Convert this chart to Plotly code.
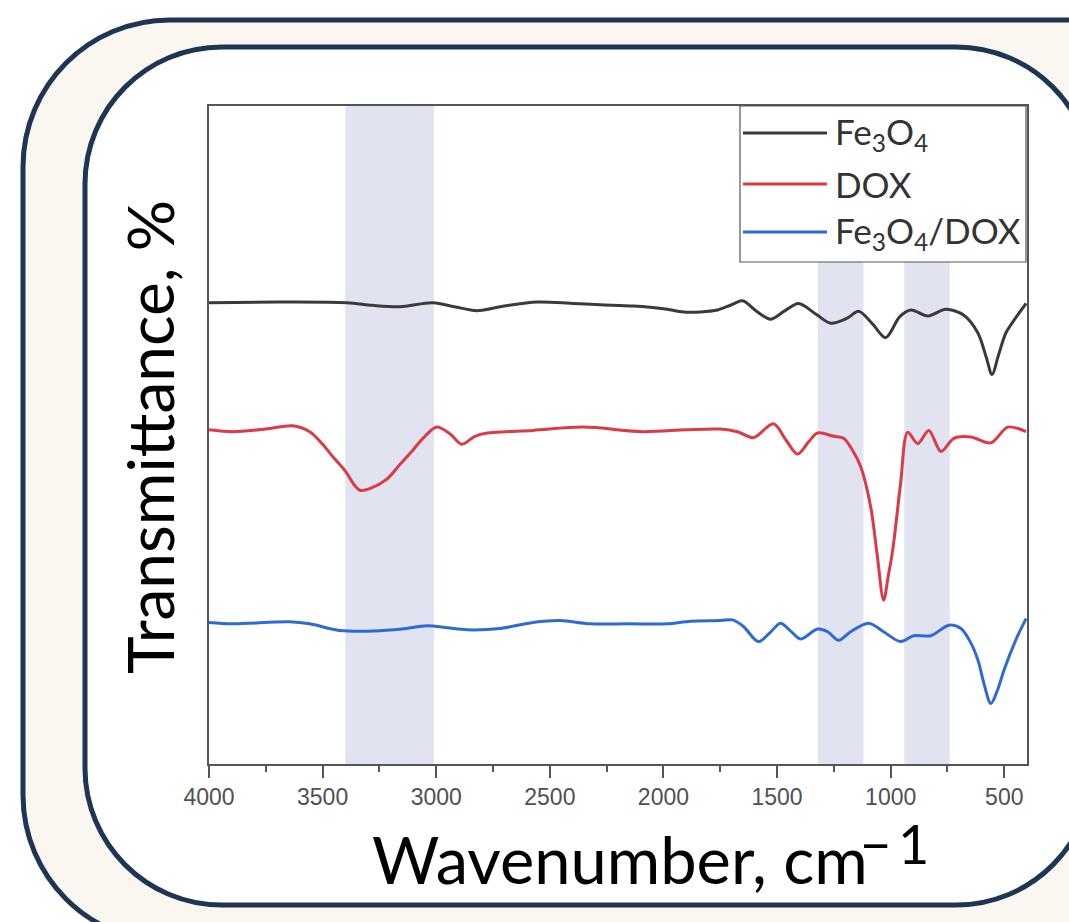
import plotly.graph_objects as go

# ---------------- data ----------------
fe_w = [4000, 3700, 3394, 3280, 3160, 3015, 2920, 2821, 2700, 2556,
        2400, 2278, 2133, 2000, 1912, 1837, 1762, 1700, 1652, 1590,
        1529, 1465, 1405, 1330, 1264, 1189, 1141, 1080, 1022, 960,
        911, 836, 757, 678, 616, 580, 554, 525, 493, 450, 404]
fe_t = [70.1, 70.2, 70.1, 69.7, 69.5, 70.1, 69.5, 68.9, 69.6, 70.2,
        70.0, 69.8, 69.6, 69.2, 68.7, 68.7, 69.0, 69.8, 70.4, 68.8,
        67.6, 68.9, 70.0, 68.4, 67.0, 67.8, 68.8, 66.9, 64.8, 68.0,
        69.0, 68.1, 69.1, 68.2, 65.5, 61.9, 59.2, 62.2, 65.5, 67.8, 70.0]

dox_w = [4000, 3896, 3750, 3632, 3557, 3500, 3455, 3400, 3360, 3336,
         3290, 3217, 3160, 3103, 3050, 2997, 2940, 2887, 2830, 2776,
         2574, 2353, 2089, 1900, 1749, 1674, 1604, 1516, 1460, 1410,
         1360, 1322, 1250, 1207, 1170, 1132, 1088, 1060, 1031, 1010,
         991, 956, 925, 881, 832, 779, 722, 647, 559, 484, 404]
dox_t = [50.8, 50.5, 50.9, 51.4, 50.5, 48.6, 46.7, 44.5, 42.4, 41.6,
         41.9, 43.3, 45.5, 47.7, 49.8, 51.2, 50.2, 48.6, 49.8, 50.3,
         50.7, 51.2, 50.5, 50.8, 50.9, 50.5, 49.6, 51.7, 49.2, 47.1,
         49.0, 50.3, 49.8, 49.5, 47.8, 45.2, 39.1, 32.0, 24.9, 28.7,
         32.5, 42.7, 50.4, 48.7, 50.7, 47.5, 49.5, 49.7, 48.8, 51.2, 50.5]

fd_w = [4000, 3896, 3645, 3557, 3425, 3279, 3150, 3041, 2950, 2865,
        2719, 2574, 2455, 2322, 2150, 1983, 1881, 1749, 1696, 1648,
        1582, 1530, 1485, 1440, 1397, 1322, 1277, 1229, 1176, 1097,
        1031, 956, 898, 823, 744, 691, 650, 616, 590, 559,
        530, 501, 450, 404]
fd_t = [21.5, 21.3, 21.6, 21.3, 20.3, 20.2, 20.5, 21.0, 20.7, 20.4,
        20.6, 21.5, 21.8, 21.3, 21.3, 21.3, 21.7, 21.8, 21.9, 20.9,
        18.6, 20.0, 21.4, 20.2, 19.0, 20.5, 20.1, 18.8, 20.1, 21.4,
        20.1, 18.6, 19.5, 19.5, 21.1, 20.6, 18.6, 15.8, 12.3, 9.2,
        11.2, 14.3, 18.8, 22.1]

series_names = ["Fe<sub>3</sub>O<sub>4</sub>", "DOX", "Fe<sub>3</sub>O<sub>4</sub>/DOX"]
series_colors = ["#3a3a3a", "#dc3a45", "#2d6bd3"]

bands = [(3400, 3010), (1320, 1120), (940, 740)]

major_ticks = [4000, 3500, 3000, 2500, 2000, 1500, 1000, 500]
minor_ticks = [3750, 3250, 2750, 2250, 1750, 1250, 750]

x_title = "Wavenumber, cm"
x_title_sup = "\u2212\u20091"
y_title = "Transmittance, %"

# ---------------- layout geometry ----------------
W, H = 1069, 922
ML, MR, MT, MB = 209, 42, 106, 158
PW, PH = W - ML - MR, H - MT - MB


def px(x):
    return (x - ML) / PW


def py(y):
    return (H - MB - y) / PH


def rounded_path(x0, y0, x1, y1, r):
    k = 0.5523 * r

    def P(x, y):
        return f"{px(x):.5f},{py(y):.5f}"
    d = f"M{P(x0 + r, y0)} L{P(x1 - r, y0)} "
    d += f"C{P(x1 - r + k, y0)} {P(x1, y0 + r - k)} {P(x1, y0 + r)} "
    d += f"L{P(x1, y1 - r)} "
    d += f"C{P(x1, y1 - r + k)} {P(x1 - r + k, y1)} {P(x1 - r, y1)} "
    d += f"L{P(x0 + r, y1)} "
    d += f"C{P(x0 + r - k, y1)} {P(x0, y1 - r + k)} {P(x0, y1 - r)} "
    d += f"L{P(x0, y0 + r)} "
    d += f"C{P(x0, y0 + r - k)} {P(x0 + r - k, y0)} {P(x0 + r, y0)} Z"
    return d


frame_color = "#1e3653"
shapes = [
    dict(type="path", xref="paper", yref="paper", layer="below",
         path=rounded_path(23, 20, 1260, 942, 147),
         fillcolor="#faf6f0", line=dict(color=frame_color, width=5)),
    dict(type="path", xref="paper", yref="paper", layer="below",
         path=rounded_path(85, 47, 1093, 905, 137),
         fillcolor="#ffffff", line=dict(color=frame_color, width=5)),
]
for a, b in bands:
    shapes.append(dict(type="rect", xref="x", yref="paper", x0=a, x1=b, y0=0, y1=1,
                       fillcolor="#e2e3f0", line=dict(width=0), layer="below"))

# manual legend
leg_x0, leg_x1, leg_y0, leg_y1 = 740, 1026, 106, 262
shapes.append(dict(type="rect", xref="paper", yref="paper",
                   x0=px(leg_x0), x1=px(leg_x1), y0=py(leg_y1), y1=py(leg_y0),
                   fillcolor="rgba(255,255,255,1)", line=dict(color="#555555", width=1.2)))
row_y = [133, 184, 232]
font_main = "Lato, Liberation Sans, sans-serif"
annotations = []
for name, col, yy in zip(series_names, series_colors, row_y):
    shapes.append(dict(type="line", xref="paper", yref="paper",
                       x0=px(743), x1=px(827), y0=py(yy), y1=py(yy),
                       line=dict(color=col, width=3)))
    annotations.append(dict(xref="paper", yref="paper", x=px(833), y=py(yy),
                            text=name, showarrow=False, xanchor="left", yanchor="middle",
                            font=dict(family=font_main, size=35, color="#333333")))

# axis titles
annotations.append(dict(xref="paper", yref="paper", x=px(149), y=py(437),
                        text=y_title, textangle=-90, showarrow=False,
                        xanchor="center", yanchor="middle",
                        font=dict(family=font_main, size=64, color="#000000")))
annotations.append(dict(xref="paper", yref="paper", x=px(370), y=py(859),
                        text=x_title, showarrow=False,
                        xanchor="left", yanchor="middle",
                        font=dict(family=font_main, size=65, color="#000000")))
annotations.append(dict(xref="paper", yref="paper", x=px(858), y=py(843),
                        text=x_title_sup, showarrow=False,
                        xanchor="left", yanchor="middle",
                        font=dict(family=font_main, size=54, color="#000000")))

# ---------------- figure ----------------
fig = go.Figure()
for wx, ty, name, col in zip([fe_w, dox_w, fd_w], [fe_t, dox_t, fd_t], series_names, series_colors):
    fig.add_trace(go.Scatter(x=wx, y=ty, mode="lines", name=name,
                             line=dict(color=col, width=3, shape="spline", smoothing=0.9),
                             showlegend=False))

fig.update_layout(
    width=W, height=H,
    margin=dict(l=ML, r=MR, t=MT, b=MB),
    paper_bgcolor="#ffffff",
    plot_bgcolor="rgba(0,0,0,0)",
    shapes=shapes,
    annotations=annotations,
    showlegend=False,
)
fig.update_xaxes(
    range=[4000, 400], tickmode="array", tickvals=major_ticks,
    ticktext=[str(v) for v in major_ticks],
    ticks="outside", ticklen=12, tickwidth=1.5, tickcolor="#555555",
    showline=True, linecolor="#555555", linewidth=1.5, mirror=True,
    showgrid=False, zeroline=False,
    ticklabelstandoff=0,
    tickfont=dict(family="Liberation Sans, sans-serif", size=23, color="#505050"),
    minor=dict(tickmode="array", tickvals=minor_ticks, ticks="outside", ticklen=6,
               tickwidth=1.5, tickcolor="#555555", showgrid=False),
)
fig.update_yaxes(
    range=[0, 100], showticklabels=False, ticks="",
    showline=True, linecolor="#555555", linewidth=1.5, mirror=True,
    showgrid=False, zeroline=False,
)

fig.write_html("out.html")
